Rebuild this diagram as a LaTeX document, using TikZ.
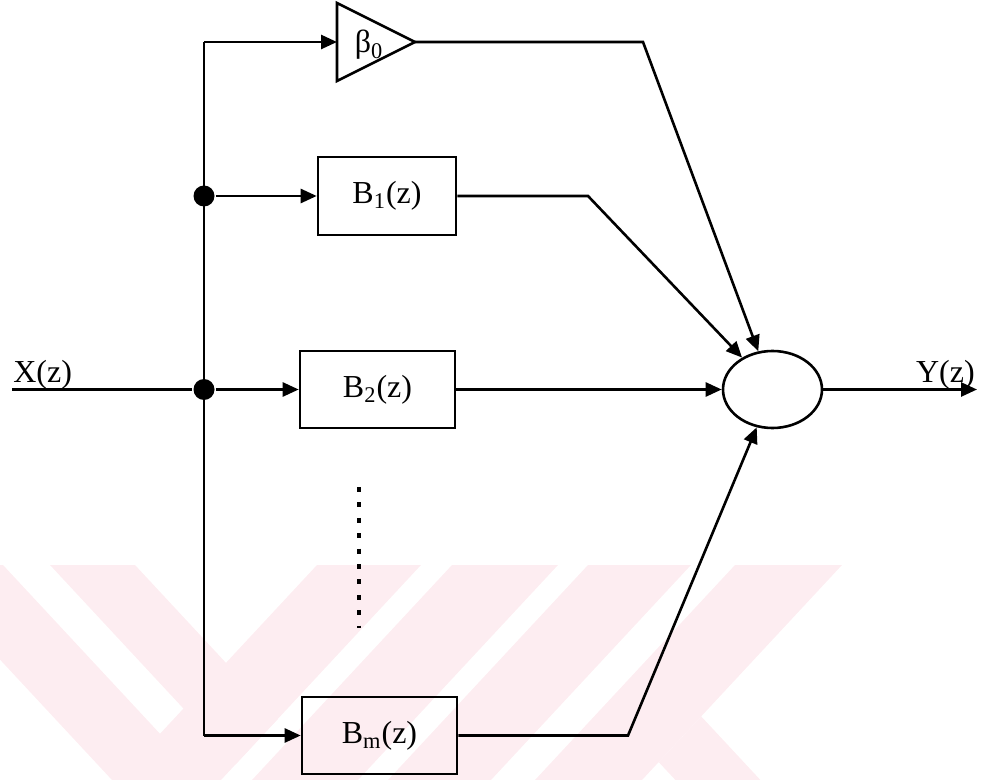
\documentclass[tikz,border=0pt]{standalone}
\usepackage{fontspec}
\setmainfont{Liberation Serif}
\usetikzlibrary{arrows.meta,shapes.geometric}
\definecolor{wm}{RGB}{253,237,241}
\newcommand\lblfont{\fontsize{16}{19}\selectfont}
\begin{document}
\begin{tikzpicture}[x=0.5pt,y=-0.5pt,line width=1.3pt,
  box/.style={draw,minimum width=77.5pt,minimum height=38.5pt,inner sep=0pt,font=\lblfont},
  arr/.style={-{Triangle[length=8pt,width=7pt]}},
  lbl/.style={font=\lblfont,inner sep=0pt},
  dotnode/.style={circle,fill,minimum size=10.5pt,inner sep=0pt}]
\useasboundingbox (0,0) rectangle (985,780);
% watermark
\begin{scope}
\clip (0,0) rectangle (985,780);
\fill[wm] (-88,565) -- (3,565) -- (203,780) -- (112,780) -- cycle;
\fill[wm] (50,565) -- (135,565) -- (278,718.8) -- (235.5,764.5) -- cycle;
\fill[wm] (317,565) -- (421,565) -- (221,780) -- (117,780) -- cycle;
\fill[wm] (452,565) -- (558,565) -- (358,780) -- (252,780) -- cycle;
\fill[wm] (588,565) -- (691,565) -- (491,780) -- (388,780) -- cycle;
\fill[wm] (735,565) -- (842,565) -- (642,780) -- (535,780) -- cycle;
\fill[wm] (701.2,716.4) -- (760.4,780) -- (675.4,780) -- (658.7,762.1) -- cycle;
\end{scope}
% blocks
\node[box,minimum width=69pt,minimum height=39pt] (b1) at (387,196) {B\textsubscript{1}(z)};
\node[box] (b2) at (377.5,389.5) {B\textsubscript{2}(z)};
\node[box] (bm) at (379.5,735.5) {B\textsubscript{m}(z)};
\node[draw,ellipse,minimum width=49.5pt,minimum height=38.5pt,inner sep=0pt] (sum) at (772.5,389.5) {};
% gain triangle
\coordinate (ta) at (337,3);
\coordinate (tb) at (337,81);
\coordinate (tp) at (415,42);
\coordinate (tin) at (337,42);
\draw[line join=miter] (ta) -- (tp) -- (tb) -- cycle;
\node[lbl] (beta) at (369,45) {β\textsubscript{0}};
% bus
\coordinate (bt) at (204,42);
\coordinate (bb) at (204,735.5);
\node[dotnode] (d1) at (204,196) {};
\node[dotnode] (d2) at (204,389.5) {};
\draw (bt) -- (bb);
\draw[arr] (bt) -- (tin);
\draw[arr] (d1) -- (b1);
\draw[arr] (d2) -- (b2);
\draw[arr] (bb) -- (bm);
% input
\coordinate (xin) at (12,389.5);
\draw (xin) -- (d2);
\node[lbl,anchor=base west] (xl) at (12,383) {X(z)};
% output
\coordinate (yout) at (977,389.5);
\draw[arr] (sum) -- (yout);
\node[lbl,anchor=base east] (yl) at (976,383) {Y(z)};
% into summing node
\coordinate (c0) at (643,42);
\coordinate (c1) at (588,196);
\coordinate (cm) at (628,735.5);
\draw[arr] (tp) -- (c0) -- (sum);
\draw[arr] (b1) -- (c1) -- (sum);
\draw[arr] (b2) -- (sum);
\draw[arr] (bm) -- (cm) -- (sum);
% vertical dots
\coordinate (v1) at (359,487);
\coordinate (v2) at (359,628);
\draw[line width=1.8pt,dash pattern=on 2.5pt off 5.2pt] (v1) -- (v2);
\end{tikzpicture}
\end{document}
